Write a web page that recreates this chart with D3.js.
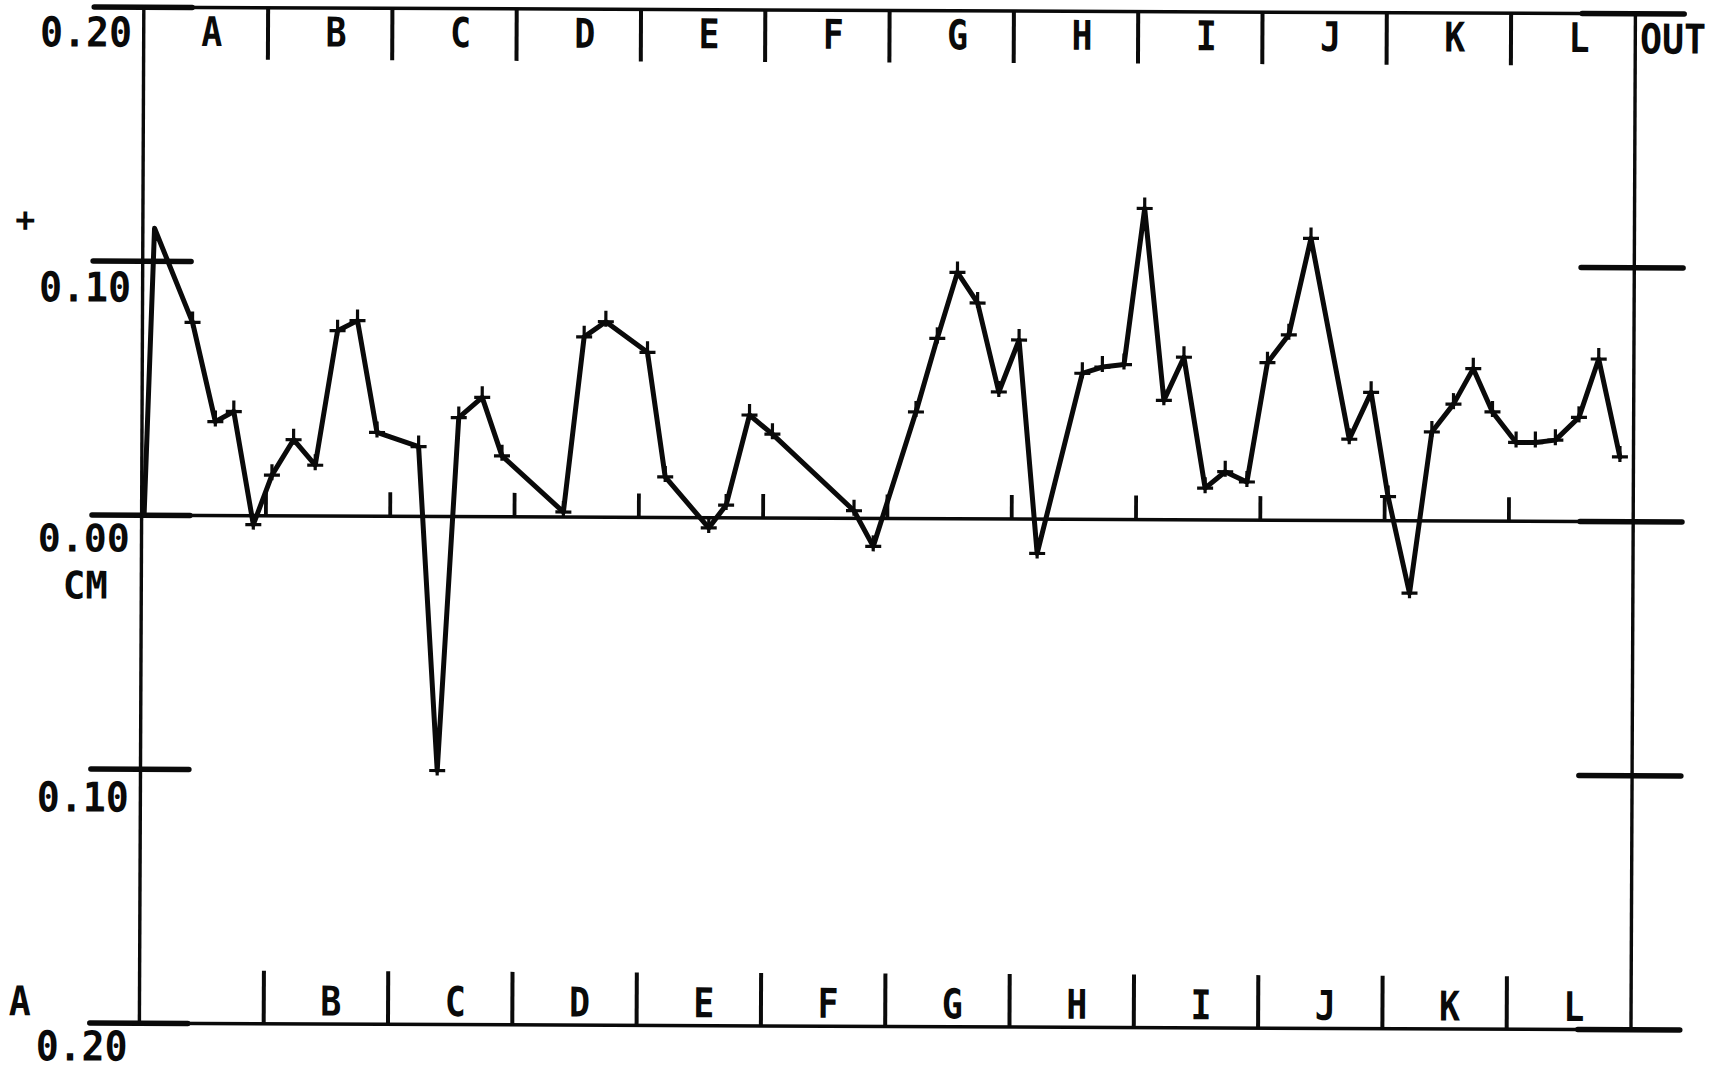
<!DOCTYPE html>
<html><head><meta charset="utf-8">
<script src="https://cdn.jsdelivr.net/npm/d3@7"></script>
<style>html,body{margin:0;padding:0;background:#fff;} svg{display:block;}</style>
</head><body>
<svg id="chart" width="1715" height="1071"></svg>
<script>
// ---- data ----
const columns = ["A","B","C","D","E","F","G","H","I","J","K","L"];
const topLabels = ["A","B","C","D","E","F","G","H","I","J","K","L"];
const bottomLabels = ["B","C","D","E","F","G","H","I","J","K","L"];
const yTickValues = [0.2, 0.1, 0.0, -0.1, -0.2];
const yTickLabels = ["0.20","0.10","0.00","0.10","0.20"];
const unitLabel = "CM";
const outLabel = "OUT";
const signLabel = "+";
const cornerLabel = "A";
// positions in column units (0 = left axis, 12 = right axis)
const positions = [0.02, 0.094, 0.403, 0.590, 0.738, 0.899, 1.047, 1.220, 1.395, 1.570, 1.730, 1.891,
  2.226, 2.387, 2.548, 2.736, 2.897, 3.393, 3.554, 3.728, 4.064, 4.211, 4.563, 4.702, 4.887, 5.072,
  5.731, 5.887, 6.226, 6.395, 6.555, 6.718, 6.892, 7.053, 7.206, 7.563, 7.724, 7.898, 8.059, 8.220,
  8.380, 8.555, 8.716, 8.891, 9.052, 9.223, 9.398, 9.713, 9.887, 10.027, 10.203, 10.377, 10.550,
  10.708, 10.864, 11.055, 11.210, 11.371, 11.560, 11.717, 11.891];
const values = [0.000, 0.113, 0.076, 0.037, 0.041, -0.0035, 0.016, 0.030, 0.020, 0.073, 0.077, 0.033,
  0.0275, -0.100, 0.039, 0.047, 0.024, 0.002, 0.071, 0.077, 0.065, 0.016, -0.004, 0.005, 0.0405, 0.033,
  0.003, -0.011, 0.042, 0.071, 0.097, 0.085, 0.050, 0.0705, -0.0135, 0.0575, 0.060, 0.061, 0.1225, 0.047,
  0.064, 0.0125, 0.019, 0.015, 0.062, 0.073, 0.111, 0.032, 0.0505, 0.0095, -0.0285, 0.035, 0.046,
  0.060, 0.043, 0.031, 0.031, 0.032, 0.041, 0.064, 0.0255];

// ---- drawing ----
const svg = d3.select("#chart");
svg.append("rect").attr("width",1715).attr("height",1071).attr("fill","#fff");
const g = svg.append("g").attr("transform","rotate(0.25, 887, 518.5)");

const x = d3.scaleLinear().domain([0, columns.length]).range([141.6, 1633.2]);
const y = d3.scaleLinear().domain([-0.2, 0.2]).range([1026.5, 10.5]);
const ink = "#0a0a0a";
const stubL = [92, 190], stubR = [1580, 1682];

// horizontal frame lines (top, zero, bottom)
[0.2, 0.0, -0.2].forEach(v => {
  g.append("line").attr("x1", stubL[0]).attr("x2", stubR[1])
    .attr("y1", y(v)).attr("y2", y(v))
    .attr("stroke", ink).attr("stroke-width", 3.5);
});
// thick stubs at each tick value on both sides
yTickValues.forEach(v => {
  [stubL, stubR].forEach(s => {
    g.append("line").attr("x1", s[0]).attr("x2", s[1])
      .attr("y1", y(v)).attr("y2", y(v))
      .attr("stroke", ink).attr("stroke-width", 5.5).attr("stroke-linecap","round");
  });
});
// vertical axes
[0, columns.length].forEach(c => {
  g.append("line").attr("x1", x(c)).attr("x2", x(c))
    .attr("y1", y(0.2)).attr("y2", y(-0.2))
    .attr("stroke", ink).attr("stroke-width", 3.4);
});
// column dividers: top, bottom and small ticks on zero line
d3.range(1, columns.length).forEach(c => {
  g.append("line").attr("x1", x(c)).attr("x2", x(c))
    .attr("y1", y(0.2)).attr("y2", y(0.2) + 52)
    .attr("stroke", ink).attr("stroke-width", 4);
  g.append("line").attr("x1", x(c)).attr("x2", x(c))
    .attr("y1", y(-0.2)).attr("y2", y(-0.2) - 53)
    .attr("stroke", ink).attr("stroke-width", 4);
  g.append("line").attr("x1", x(c)).attr("x2", x(c))
    .attr("y1", y(0)).attr("y2", y(0) - 24)
    .attr("stroke", ink).attr("stroke-width", 3.8);
});

const font = "'DejaVu Sans Mono', 'Liberation Mono', monospace";
function label(txt, xx, yy, anchor, len, size) {
  const t = g.append("text").attr("x", xx).attr("y", yy)
    .attr("text-anchor", anchor)
    .attr("font-family", font).attr("font-weight", "bold")
    .attr("font-size", size || 41).attr("fill", ink).text(txt);
  if (len) t.attr("textLength", len).attr("lengthAdjust", "spacingAndGlyphs");
  return t;
}
// column letters
topLabels.forEach((l, i) => label(l, x(i + 0.5) + 6, 49, "middle", 21));
bottomLabels.forEach((l, i) => label(l, x(i + 1.5) + 5, 1018, "middle", 21));
// y labels on left
const yLabelBase = [50, 305, 555, 815, 1064];
yTickLabels.forEach((t, i) => label(t, 38, yLabelBase[i], "start", 92, i === 2 ? 38 : 41));
label(unitLabel, 63, 602, "start", 45, 38);
label(signLabel, 24, 235, "middle", 20, 34);
label(cornerLabel, 22, 1019, "middle", 22);
label(outLabel, 1638, 50, "start", 66);

// data line
const pts = positions.map((p, i) => [x(p), y(values[i])]);
g.append("path").attr("d", d3.line()(pts))
  .attr("fill", "none").attr("stroke", ink).attr("stroke-width", 5)
  .attr("stroke-linejoin", "round").attr("stroke-linecap", "round");
// plus markers
g.selectAll("path.mk").data(pts.slice(2)).enter().append("path")
  .attr("class", "mk")
  .attr("d", d => `M${d[0]-8},${d[1]}H${d[0]+8}M${d[0]},${d[1]-11}V${d[1]+5}`)
  .attr("stroke", ink).attr("stroke-width", 3.2).attr("fill", "none");
</script>
</body></html>
